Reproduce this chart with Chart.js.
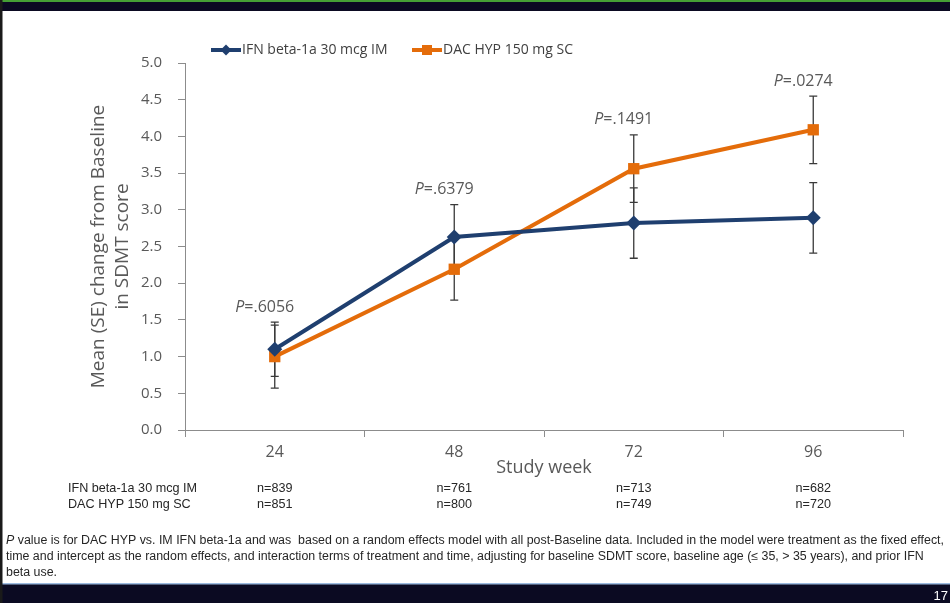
<!DOCTYPE html>
<html>
<head>
<meta charset="utf-8">
<script src="https://cdn.jsdelivr.net/npm/chart.js@4.4.1/dist/chart.umd.min.js"></script>
<style>
  html, body { margin: 0; padding: 0; background: #ffffff; }
  #wrap { position: relative; width: 950px; height: 603px; }
  canvas { display: block; }
</style>
</head>
<body>
<div id="wrap"><canvas id="sdmt" width="950" height="603"></canvas></div>
<script>
// Study weeks on the x axis
const weeks = ['24', '48', '72', '96'];
// Mean change from baseline in SDMT score and its standard error
const ifnMean = [1.10, 2.63, 2.82, 2.89];
const ifnSE   = [0.37, 0.44, 0.48, 0.48];
const dacMean = [1.00, 2.19, 3.56, 4.09];
const dacSE   = [0.43, 0.42, 0.46, 0.46];
// P values (DAC HYP vs. IM IFN beta-1a) per visit
const pValues = ['.6056', '.6379', '.1491', '.0274'];
// Patients with data at each visit
const ifnN = [839, 761, 713, 682];
const dacN = [851, 800, 749, 720];
const seriesNames = ['IFN beta-1a 30 mcg IM', 'DAC HYP 150 mg SC'];

const BLUE = '#1f3f6f';
const ORANGE = '#e46c0a';
const GREY_TEXT = '#595959';
const AXIS = '#8c8c8c';
const SANS = '"Open Sans", "Noto Sans", sans-serif';
const NARROW = '"Liberation Sans Narrow", "Liberation Sans", Arial, sans-serif';

const footnote = [
  [{ t: 'P', italic: true }, { t: ' value is for DAC HYP vs. IM IFN beta-1a and was  based on a random effects model with all post-Baseline data. Included in the model were treatment as the fixed effect,' }],
  [{ t: 'time and intercept as the random effects, and interaction terms of treatment and time, adjusting for baseline SDMT score, baseline age (\u2264 35, > 35 years), and prior IFN' }],
  [{ t: 'beta use.' }]
];

function partsWidth(ctx, parts, size, fam) {
  let w = 0;
  for (const p of parts) {
    ctx.font = (p.italic ? 'italic ' : '') + size + 'px ' + fam;
    w += ctx.measureText(p.t).width;
  }
  return w;
}

// Draws a run of text squeezed horizontally by sx (condensed face look)
function drawParts(ctx, parts, x, y, size, fam, sx, align) {
  const w = partsWidth(ctx, parts, size, fam) * sx;
  let start = x;
  if (align === 'center') start = x - w / 2;
  ctx.save();
  ctx.translate(start, y);
  ctx.scale(sx, 1);
  ctx.textAlign = 'left';
  ctx.textBaseline = 'middle';
  let cx = 0;
  for (const p of parts) {
    ctx.font = (p.italic ? 'italic ' : '') + size + 'px ' + fam;
    ctx.fillText(p.t, cx, 0);
    cx += ctx.measureText(p.t).width;
  }
  ctx.restore();
}

function drawMarker(ctx, style, x, y, r, color) {
  ctx.save();
  ctx.fillStyle = color;
  ctx.beginPath();
  if (style === 'rectRot') {
    ctx.moveTo(x, y - r); ctx.lineTo(x + r, y); ctx.lineTo(x, y + r); ctx.lineTo(x - r, y);
  } else {
    ctx.rect(x - r, y - r, 2 * r, 2 * r);
  }
  ctx.closePath();
  ctx.fill();
  ctx.restore();
}

const slidePlugin = {
  id: 'slideDecor',
  beforeDraw(chart) {
    const ctx = chart.ctx;
    ctx.save();
    ctx.fillStyle = '#ffffff';
    ctx.fillRect(0, 0, 950, 603);
    // header band
    ctx.fillStyle = '#0b0a22';
    ctx.fillRect(0, 0, 950, 11);
    ctx.fillStyle = '#45a035';
    ctx.fillRect(0, 0, 950, 2);
    // footer band
    ctx.fillStyle = '#0b0a22';
    ctx.fillRect(0, 584, 950, 19);
    ctx.fillStyle = '#9dbbe0';
    ctx.fillRect(0, 583, 950, 1.5);
    // left edge
    ctx.fillStyle = '#1a1a1a';
    ctx.fillRect(0, 0, 2.5, 603);
    ctx.restore();
  },
  beforeDatasetsDraw(chart) {
    // standard error bars, behind the markers
    const ctx = chart.ctx;
    const xs = chart.scales.x, ys = chart.scales.y;
    ctx.save();
    ctx.strokeStyle = '#3a3a3a';
    ctx.lineWidth = 1.3;
    [[ifnMean, ifnSE], [dacMean, dacSE]].forEach(([m, se]) => {
      m.forEach((v, i) => {
        const x = xs.getPixelForValue(i);
        const yt = ys.getPixelForValue(v + se[i]);
        const yb = ys.getPixelForValue(v - se[i]);
        ctx.beginPath();
        ctx.moveTo(x, yt); ctx.lineTo(x, yb);
        ctx.moveTo(x - 4, yt); ctx.lineTo(x + 4, yt);
        ctx.moveTo(x - 4, yb); ctx.lineTo(x + 4, yb);
        ctx.stroke();
      });
    });
    ctx.restore();
  },
  afterDraw(chart) {
    const ctx = chart.ctx;
    const xs = chart.scales.x, ys = chart.scales.y;
    ctx.save();

    // P value labels above the highest error bar
    ctx.fillStyle = GREY_TEXT;
    pValues.forEach((p, i) => {
      const top = Math.max(ifnMean[i] + ifnSE[i], dacMean[i] + dacSE[i]);
      const x = xs.getPixelForValue(i) - 10;
      const y = ys.getPixelForValue(top) - 15;
      drawParts(ctx, [{ t: 'P', italic: true }, { t: '=' + p }], x, y, 16, SANS, 1, 'center');
    });

    // legend
    const legendY = 50;
    const items = [
      { x: 211, color: BLUE, style: 'rectRot', r: 5.5 },
      { x: 412, color: ORANGE, style: 'rect', r: 5 }
    ];
    items.forEach((it, k) => {
      ctx.strokeStyle = it.color;
      ctx.lineWidth = 4;
      ctx.beginPath();
      ctx.moveTo(it.x, legendY); ctx.lineTo(it.x + 30, legendY);
      ctx.stroke();
      drawMarker(ctx, it.style, it.x + 15, legendY, it.r, it.color);
      ctx.fillStyle = '#404040';
      ctx.font = '14px ' + SANS;
      ctx.textAlign = 'left';
      ctx.textBaseline = 'middle';
      ctx.fillText(seriesNames[k], it.x + 31, legendY);
    });

    // patients-at-visit table
    ctx.fillStyle = '#262626';
    const tSize = 13;
    const tSx = 129 / partsWidth(ctx, [{ t: seriesNames[0] }], tSize, NARROW);
    [[ifnN, 488], [dacN, 504]].forEach(([ns, y], r) => {
      drawParts(ctx, [{ t: seriesNames[r] }], 68, y, tSize, NARROW, tSx, 'left');
      ns.forEach((n, i) => {
        drawParts(ctx, [{ t: 'n=' + n }], xs.getPixelForValue(i), y, tSize, NARROW, tSx, 'center');
      });
    });

    // footnote
    const fSize = 12;
    const fSx = 938 / partsWidth(ctx, footnote[0], fSize, NARROW);
    footnote.forEach((line, k) => {
      drawParts(ctx, line, 6, 541 + k * 16, fSize, NARROW, fSx, 'left');
    });

    // slide number
    ctx.fillStyle = '#ffffff';
    ctx.font = '13px ' + NARROW;
    ctx.textAlign = 'right';
    ctx.textBaseline = 'alphabetic';
    ctx.fillText('17', 948, 600);
    ctx.restore();
  }
};

new Chart(document.getElementById('sdmt'), {
  type: 'line',
  data: {
    labels: weeks,
    datasets: [
      {
        label: seriesNames[0],
        data: ifnMean,
        borderColor: BLUE,
        backgroundColor: BLUE,
        borderWidth: 4,
        pointStyle: 'rectRot',
        pointRadius: 7.5,
        pointBorderWidth: 0,
        pointBackgroundColor: BLUE,
        tension: 0
      },
      {
        label: seriesNames[1],
        data: dacMean,
        borderColor: ORANGE,
        backgroundColor: ORANGE,
        borderWidth: 4,
        pointStyle: 'rect',
        pointRadius: 8,
        pointBorderWidth: 0,
        pointBackgroundColor: ORANGE,
        tension: 0
      }
    ]
  },
  options: {
    responsive: false,
    devicePixelRatio: 1,
    animation: false,
    events: [],
    layout: { padding: { top: 63, left: 80, right: 47, bottom: 124 } },
    plugins: {
      legend: { display: false },
      tooltip: { enabled: false }
    },
    scales: {
      x: {
        type: 'category',
        offset: true,
        grid: { offset: true, drawOnChartArea: false, drawTicks: true, tickLength: 7, color: AXIS },
        border: { color: AXIS, width: 1 },
        ticks: { color: GREY_TEXT, font: { family: SANS, size: 16 }, padding: 6, maxRotation: 0 },
        title: { display: true, text: 'Study week', color: GREY_TEXT, font: { family: SANS, size: 18 }, padding: { top: 0, bottom: 0 } },
        afterFit(scale) { scale.height = 49; }
      },
      y: {
        min: 0,
        max: 5,
        grid: { drawOnChartArea: false, drawTicks: true, tickLength: 7, color: AXIS },
        border: { color: AXIS, width: 1 },
        ticks: {
          stepSize: 0.5,
          color: GREY_TEXT,
          font: { family: SANS, size: 15 },
          padding: 16,
          callback: (v) => Number(v).toFixed(1)
        },
        title: {
          display: true,
          text: ['Mean (SE) change from Baseline', 'in SDMT score'],
          color: GREY_TEXT,
          font: { family: SANS, size: 19, lineHeight: 1.3 },
          padding: { top: 6, bottom: 4 }
        },
        afterFit(scale) { scale.width = 105; }
      }
    }
  },
  plugins: [slidePlugin]
});
</script>
</body>
</html>
